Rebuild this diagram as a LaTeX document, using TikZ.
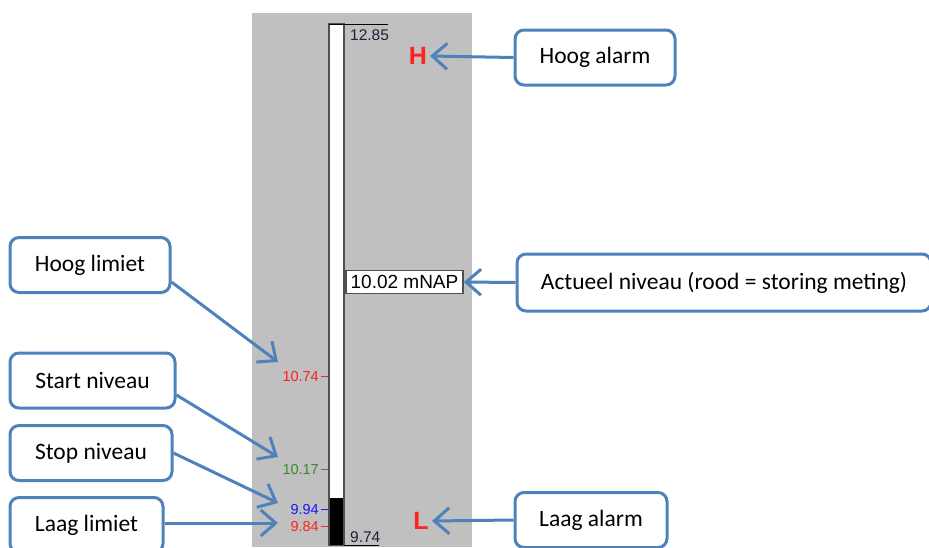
\documentclass[tikz,border=0pt]{standalone}
\usepackage{fontspec}
\setmainfont{Carlito}
\newfontfamily\arial{Liberation Sans}
\usetikzlibrary{arrows.meta}
\definecolor{kaderblauw}{HTML}{4F81BD}
\definecolor{paneelgrijs}{HTML}{C0C0C0}
\definecolor{buisrand}{HTML}{505050}
\definecolor{limietrood}{HTML}{FF2020}
\definecolor{startgroen}{HTML}{3A8A2A}
\definecolor{stopblauw}{HTML}{1818FF}
\definecolor{schaaltekst}{HTML}{202038}
\begin{document}
\begin{tikzpicture}[x=1pt, y=-1pt]
\tikzset{kader/.style={draw=kaderblauw, line width=3pt, rounded corners=9pt, fill=white, minimum height=55pt, font=\fontsize{23.5}{27}\selectfont},
         pijl/.style={draw=kaderblauw, line width=3pt, -{Straight Barb[length=15pt, width=26pt]}},
         schaal/.style={font=\arial\fontsize{14.5}{16}\selectfont, inner sep=0pt},
         alarm/.style={font=\arial\bfseries\fontsize{25}{28}\selectfont, text=limietrood, inner sep=0pt}}
\useasboundingbox (0,0) rectangle (929,547);
\fill[paneelgrijs] (252,13) rectangle (472,547);
% de buis
\draw[buisrand, line width=2pt, fill=white] (329,24) rectangle (344,545);
\fill[black] (330,498) rectangle (343,545);
\draw[black, line width=1pt] (329,24) -- (388,24);
\draw[black, line width=1pt] (344,545) -- (379,545);
\node[schaal, text=schaaltekst, anchor=west, font=\arial\fontsize{15.5}{17}\selectfont] (max) at (350,35) {12.85};
\node[schaal, text=schaaltekst, anchor=west, font=\arial\fontsize{15.5}{17}\selectfont] (min) at (350,537) {9.74};
% limieten
\node[schaal, text=limietrood, anchor=east] (hl) at (319,376) {10.74};
\node[schaal, text=startgroen, anchor=east] (sn) at (319,469) {10.17};
\node[schaal, text=stopblauw, anchor=east] (stn) at (319,509) {9.94};
\node[schaal, text=limietrood, anchor=east] (ll) at (319,526) {9.84};
\draw[limietrood, line width=1pt] (321,376) -- (328,376);
\draw[startgroen, line width=1pt] (321,469) -- (328,469);
\draw[stopblauw, line width=1pt] (321,509) -- (328,509);
\draw[limietrood, line width=1pt] (321,526) -- (328,526);
\node[draw=buisrand, line width=1.5pt, fill=white, font=\arial\fontsize{19}{21}\selectfont, inner sep=2pt, minimum height=23pt, minimum width=117pt] (meting) at (404.5,282) {10.02 mNAP};
\node[alarm] (H) at (418,56) {H};
\node[alarm] (L) at (421,521) {L};
% kaders
\node[kader, minimum width=160pt] (hoogalarm) at (595,57.5) {Hoog alarm};
\node[kader, minimum width=414pt, minimum height=57pt] (actueel) at (724,282.5) {Actueel niveau (rood = storing meting)};
\node[kader, minimum width=152pt] (laagalarm) at (591,520) {Laag alarm};
\node[kader, minimum width=160pt] (hooglimiet) at (90,265) {Hoog limiet};
\node[kader, minimum width=165pt] (startniveau) at (92.5,380.5) {Start niveau};
\node[kader, minimum width=162pt] (stopniveau) at (91,453) {Stop niveau};
\node[kader, minimum width=153pt] (laaglimiet) at (86.5,525) {Laag limiet};
\coordinate (phl) at (278,362);
\coordinate (psn) at (278,457);
\coordinate (pstn) at (278,503);
\coordinate (pll) at (278,523);
\draw[pijl] (hoogalarm.west) -- (H.east -| 430,0);
\draw[pijl] (actueel.west) -- (meting.east);
\draw[pijl] (laagalarm.west) -- (L.east -| 432,0);
\draw[pijl] ([yshift=-17pt]hooglimiet.east) -- (phl);
\draw[pijl] ([yshift=-14.5pt]startniveau.east) -- (psn);
\draw[pijl] (stopniveau.east) -- (pstn);
\draw[pijl] (laaglimiet.east |- pll) -- (pll);
\end{tikzpicture}
\end{document}
